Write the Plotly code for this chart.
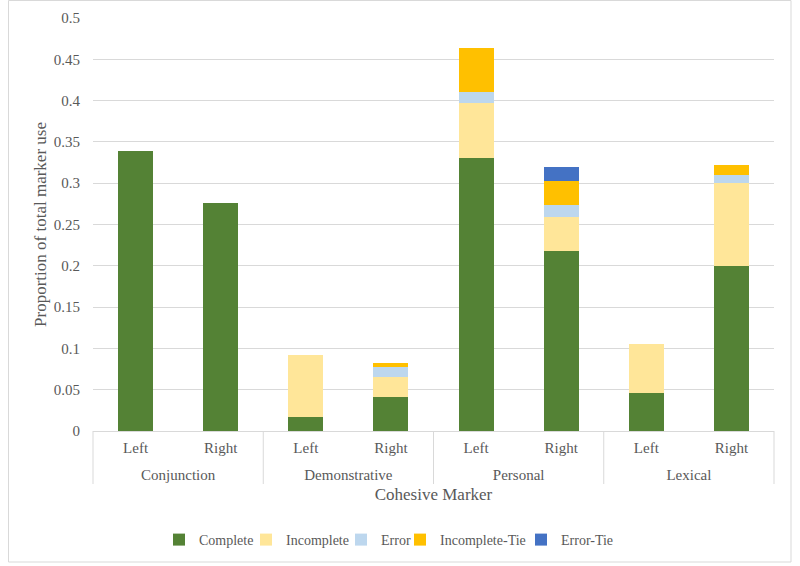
import plotly.graph_objects as go

groups = ["Conjunction", "Demonstrative", "Personal", "Lexical"]
bar_groups = ["Conjunction", "Conjunction", "Demonstrative", "Demonstrative",
              "Personal", "Personal", "Lexical", "Lexical"]
bar_sides = ["Left", "Right", "Left", "Right", "Left", "Right", "Left", "Right"]

complete = [0.339, 0.276, 0.017, 0.041, 0.330, 0.2175, 0.046, 0.200]
incomplete = [0, 0, 0.075, 0.024, 0.067, 0.0415, 0.059, 0.100]
error = [0, 0, 0, 0.013, 0.013, 0.0146, 0, 0.0095]
incomplete_tie = [0, 0, 0, 0.004, 0.054, 0.0294, 0, 0.013]
error_tie = [0, 0, 0, 0, 0, 0.0166, 0, 0]

series = [
    ("Complete", complete, "#548235"),
    ("Incomplete", incomplete, "#FFE699"),
    ("Error", error, "#BDD7EE"),
    ("Incomplete-Tie", incomplete_tie, "#FFC000"),
    ("Error-Tie", error_tie, "#4472C4"),
]
# left edge (px) of each legend label text
legend_text_x = [199, 286, 381, 440, 561]

FF = "Liberation Serif"
GRAY = "#595959"
LINE = "#d9d9d9"

W, H = 800, 566
L, R, T, B = 93, 26, 18, 50
PH = H - T - B
PW = W - L - R
axis_y = 431
dom0 = (H - B - axis_y) / PH

cat_ids = [f"{g} {s}" for g, s in zip(bar_groups, bar_sides)]

fig = go.Figure()
legends = {}
for i, (name, vals, color) in enumerate(series):
    key = "legend" if i == 0 else f"legend{i + 1}"
    fig.add_trace(go.Bar(
        x=cat_ids, y=vals, name=name,
        marker=dict(color=color, line=dict(width=0)),
        xaxis="x", yaxis="y", legend=key,
    ))
    legends[key] = dict(orientation="h", xref="container", x=(legend_text_x[i] - 40) / W,
                        xanchor="left", yref="container", y=26 / H, yanchor="middle",
                        font=dict(family=FF, size=14, color=GRAY),
                        itemwidth=30, bgcolor="rgba(0,0,0,0)")
fig.add_trace(go.Bar(x=groups, y=[0] * len(groups), xaxis="x2", yaxis="y",
                     showlegend=False, hoverinfo="skip",
                     marker=dict(color="rgba(0,0,0,0)")))

shapes = []
for f in [0, 0.25, 0.5, 0.75, 1.0]:
    shapes.append(dict(type="line", xref="x domain", yref="paper",
                       x0=f, x1=f, y0=(H - B - 484) / PH, y1=dom0,
                       line=dict(color=LINE, width=1)))
shapes.append(dict(type="rect", xref="paper", yref="paper",
                   x0=(8.5 - L) / PW, x1=(791 - L) / PW,
                   y0=(H - B - 562) / PH, y1=(H - B - 0.5) / PH,
                   line=dict(color=LINE, width=1)))

fig.update_layout(
    barmode="stack",
    bargap=0.59,
    width=W, height=H,
    paper_bgcolor="white", plot_bgcolor="white",
    margin=dict(l=L, r=R, t=T, b=B, autoexpand=False),
    font=dict(family=FF, size=15, color=GRAY),
    showlegend=True,
    shapes=shapes,
    xaxis=dict(
        type="category", anchor="y",
        tickvals=cat_ids, ticktext=bar_sides,
        showline=True, linecolor=LINE, linewidth=1,
        ticks="", showgrid=False, automargin=False,
        tickfont=dict(family=FF, size=15, color=GRAY),
        ticklabelstandoff=3,
    ),
    xaxis2=dict(
        type="category", overlaying="x", anchor="free",
        position=(H - B - 464) / PH,
        side="bottom", showline=False, ticks="", showgrid=False,
        automargin=False,
        tickfont=dict(family=FF, size=15, color=GRAY),
        title=dict(text="Cohesive Marker", font=dict(family=FF, size=17, color=GRAY),
                   standoff=6),
    ),
    yaxis=dict(
        domain=[dom0, 1],
        range=[0, 0.5], dtick=0.05, tickformat="~g",
        showgrid=True, gridcolor=LINE, gridwidth=1,
        zeroline=False, showline=False, automargin=False,
        tickfont=dict(family=FF, size=15, color=GRAY),
        ticklabelstandoff=12,
        title=dict(text="Proportion of total marker use",
                   font=dict(family=FF, size=17, color=GRAY), standoff=2),
    ),
    **legends,
)

fig.write_html("out.html", config={"displayModeBar": False},
               post_script="document.body.style.margin='0';")
